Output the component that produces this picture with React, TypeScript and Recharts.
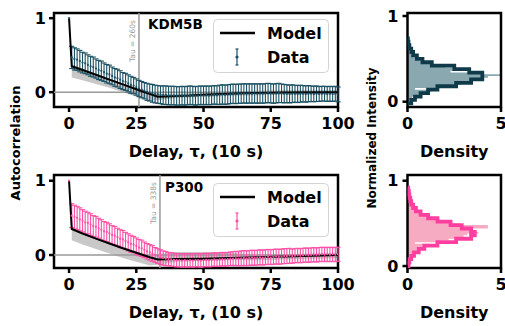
import React from 'react';
import {
  ComposedChart, Line, Area, Scatter, ErrorBar, XAxis, YAxis,
  ReferenceLine, ReferenceArea, Legend,
} from 'recharts';

const FONT = '"DejaVu Sans", sans-serif';

// ---------- data ----------
const lags = Array.from({ length: 101 }, (_, i) => i);

const kdmMean = [1.0,
  0.47, 0.45, 0.44, 0.42, 0.40, 0.39, 0.37, 0.35, 0.34, 0.32,
  0.30, 0.29, 0.27, 0.25, 0.24, 0.22, 0.20, 0.19, 0.17, 0.15,
  0.14, 0.12, 0.10, 0.09, 0.07, 0.05, 0.035, 0.02, 0.005, -0.005,
  -0.015, -0.025, -0.03, -0.035, -0.04, -0.04, -0.045, -0.045, -0.045, -0.05,
  -0.05, -0.045, -0.05, -0.045, -0.04, -0.045, -0.05, -0.045, -0.04, -0.045,
  -0.04, -0.045, -0.04, -0.035, -0.04, -0.035, -0.03, -0.035, -0.03, -0.025,
  -0.02, -0.025, -0.02, -0.02, -0.015, -0.02, -0.015, -0.02, -0.015, -0.02,
  -0.015, -0.02, -0.015, -0.01, -0.015, -0.02, -0.015, -0.01, -0.015, -0.02,
  -0.02, -0.025, -0.02, -0.02, -0.025, -0.02, -0.02, -0.025, -0.02, -0.02,
  -0.025, -0.02, -0.025, -0.02, -0.02, -0.025, -0.02, -0.025, -0.02, -0.03];

const kdmErr = [0,
  0.15, 0.15, 0.145, 0.145, 0.14, 0.14, 0.135, 0.135, 0.135, 0.13,
  0.13, 0.13, 0.125, 0.125, 0.125, 0.12, 0.12, 0.12, 0.12, 0.115,
  0.115, 0.115, 0.115, 0.11, 0.11, 0.11, 0.11, 0.11, 0.115, 0.115,
  0.12, 0.12, 0.12, 0.12, 0.125, 0.125, 0.125, 0.125, 0.125, 0.125,
  0.125, 0.125, 0.125, 0.125, 0.125, 0.125, 0.125, 0.125, 0.125, 0.125,
  0.125, 0.125, 0.125, 0.125, 0.125, 0.13, 0.13, 0.13, 0.13, 0.13,
  0.13, 0.13, 0.13, 0.13, 0.13, 0.13, 0.13, 0.13, 0.13, 0.13,
  0.13, 0.13, 0.13, 0.13, 0.13, 0.13, 0.13, 0.13, 0.125, 0.125,
  0.12, 0.12, 0.12, 0.115, 0.115, 0.115, 0.11, 0.11, 0.11, 0.105,
  0.105, 0.105, 0.1, 0.1, 0.1, 0.1, 0.1, 0.1, 0.1, 0.1];

const p300Mean = [1.0,
  0.53, 0.51, 0.50, 0.48, 0.46, 0.44, 0.43, 0.41, 0.39, 0.38,
  0.36, 0.34, 0.32, 0.31, 0.29, 0.27, 0.26, 0.24, 0.22, 0.21,
  0.19, 0.17, 0.15, 0.14, 0.12, 0.10, 0.09, 0.07, 0.05, 0.035,
  0.02, 0.0, -0.015, -0.03, -0.04, -0.05, -0.055, -0.06, -0.065, -0.07,
  -0.07, -0.075, -0.07, -0.075, -0.07, -0.075, -0.07, -0.07, -0.075, -0.07,
  -0.065, -0.07, -0.065, -0.06, -0.065, -0.06, -0.055, -0.06, -0.055, -0.05,
  -0.05, -0.045, -0.05, -0.045, -0.04, -0.045, -0.04, -0.035, -0.04, -0.035,
  -0.03, -0.035, -0.03, -0.025, -0.03, -0.025, -0.02, -0.025, -0.02, -0.015,
  -0.015, -0.01, -0.015, -0.01, -0.005, -0.01, -0.005, 0.0, -0.005, 0.0,
  0.005, 0.0, 0.005, 0.01, 0.005, 0.01, 0.005, 0.01, 0.005, 0.01];

const p300Err = [0,
  0.16, 0.16, 0.155, 0.155, 0.15, 0.15, 0.145, 0.145, 0.14, 0.14,
  0.135, 0.135, 0.13, 0.13, 0.13, 0.125, 0.125, 0.12, 0.12, 0.12,
  0.115, 0.115, 0.115, 0.11, 0.11, 0.11, 0.11, 0.105, 0.105, 0.105,
  0.105, 0.1, 0.1, 0.1, 0.095, 0.095, 0.09, 0.09, 0.09, 0.09,
  0.09, 0.09, 0.09, 0.09, 0.09, 0.09, 0.09, 0.09, 0.09, 0.09,
  0.09, 0.09, 0.09, 0.09, 0.09, 0.09, 0.09, 0.09, 0.09, 0.09,
  0.095, 0.095, 0.095, 0.1, 0.1, 0.1, 0.1, 0.1, 0.1, 0.1,
  0.1, 0.1, 0.1, 0.1, 0.1, 0.1, 0.1, 0.1, 0.1, 0.1,
  0.1, 0.1, 0.095, 0.095, 0.095, 0.095, 0.095, 0.095, 0.095, 0.095,
  0.095, 0.095, 0.095, 0.095, 0.095, 0.095, 0.095, 0.095, 0.095, 0.095];

const kdmModelLags = [0, 1, 5, 10, 15, 20, 25, 29, 33, 40, 45, 50, 64, 80, 100];
const kdmModelVals = [1.0, 0.35, 0.30, 0.235, 0.17, 0.105, 0.04, -0.01, -0.06, -0.05, -0.045, -0.035, -0.015, -0.005, 0.0];
const kdmBandLags = [1, 5, 10, 15, 20, 25, 30, 35, 40, 50, 64, 80, 100];
const kdmBandLo = [0.20, 0.16, 0.11, 0.06, 0.0, -0.06, -0.12, -0.10, -0.08, -0.065, -0.045, -0.035, -0.03];
const kdmBandHi = [0.37, 0.32, 0.25, 0.18, 0.12, 0.06, 0.0, -0.02, -0.02, -0.005, 0.015, 0.025, 0.03];

const p300ModelLags = [0, 1, 5, 10, 15, 20, 25, 30, 33, 40, 50, 60, 70, 80, 90, 100];
const p300ModelVals = [1.0, 0.35, 0.29, 0.22, 0.155, 0.09, 0.03, -0.03, -0.06, -0.055, -0.05, -0.04, -0.03, -0.02, -0.01, 0.0];
const p300BandLags = [1, 5, 10, 15, 20, 25, 30, 35, 40, 50, 60, 70, 80, 90, 100];
const p300BandLo = [0.20, 0.14, 0.08, 0.02, -0.04, -0.09, -0.14, -0.12, -0.09, -0.08, -0.07, -0.07, -0.06, -0.05, -0.04];
const p300BandHi = [0.37, 0.31, 0.24, 0.17, 0.11, 0.05, 0.0, 0.02, 0.04, 0.04, 0.03, 0.0, 0.01, 0.02, 0.03];

const kdmOutlineEdges = [-0.02, 0.02, 0.06, 0.10, 0.14, 0.18, 0.22, 0.26, 0.30, 0.34, 0.38, 0.42, 0.46, 0.50, 0.54, 0.58, 0.62, 0.66, 0.70, 0.74];
const kdmOutlineDens = [0.2, 0.4, 0.7, 1.1, 1.6, 2.6, 3.4, 4.0, 4.0, 3.3, 2.5, 1.3, 0.8, 0.5, 0.3, 0.2, 0.1, 0.05, 0.02];
const kdmFillEdges = [0.00, 0.02, 0.04, 0.06, 0.08, 0.10, 0.12, 0.14, 0.16, 0.18, 0.20, 0.22, 0.24, 0.26, 0.28, 0.30, 0.32, 0.34, 0.36, 0.38, 0.40, 0.42, 0.44, 0.46, 0.48, 0.50, 0.52, 0.54, 0.56, 0.58, 0.60];
const kdmFillDens = [0.1, 0.3, 0.25, 0.6, 0.8, 1.0, 1.3, 0.4, 2.0, 2.4, 2.9, 3.2, 3.5, 3.9, 4.3, 5.0, 3.9, 2.3, 3.0, 2.4, 2.0, 1.5, 1.0, 0.8, 0.6, 0.4, 0.3, 0.2, 0.1, 0.1];

const p300OutlineEdges = [0.00, 0.04, 0.08, 0.12, 0.16, 0.20, 0.24, 0.28, 0.32, 0.36, 0.40, 0.44, 0.48, 0.52, 0.56, 0.60, 0.64, 0.68, 0.72, 0.76, 0.80, 0.84, 0.88, 0.92];
const p300OutlineDens = [0.05, 0.1, 0.2, 0.35, 0.6, 0.9, 1.6, 2.6, 3.4, 3.6, 3.4, 2.9, 2.3, 1.6, 1.1, 0.7, 0.45, 0.3, 0.2, 0.15, 0.1, 0.07, 0.04];
const p300FillEdges = [0.10, 0.12, 0.14, 0.16, 0.18, 0.20, 0.22, 0.24, 0.26, 0.28, 0.30, 0.32, 0.34, 0.36, 0.38, 0.40, 0.42, 0.44, 0.46, 0.48, 0.50, 0.52, 0.54, 0.56, 0.58, 0.60, 0.62, 0.64, 0.66, 0.68, 0.70, 0.72, 0.74, 0.76, 0.78, 0.80];
const p300FillDens = [0.1, 0.2, 0.3, 0.4, 0.5, 0.8, 1.0, 1.2, 0.4, 1.8, 2.2, 2.6, 3.0, 3.2, 3.8, 3.5, 3.3, 4.3, 4.3, 2.8, 2.4, 2.0, 1.7, 1.3, 1.0, 0.8, 0.6, 0.5, 0.4, 0.35, 0.3, 0.2, 0.2, 0.15, 0.1];

const lagTicks = [0, 25, 50, 75, 100];
const acTicks = [0, 1];
const densTicks = [0, 5];
const intTicks = [0, 1];

const TEAL = '#1b5163';
const TEAL_DARK = '#0e3a49';
const TEAL_FILL = '#7c9ea7';
const PINK = '#ff4fa7';
const PINK_DARK = '#ff3f9f';
const PINK_FILL = '#f5a2bd';

// ---------- helpers ----------
const steps = (edges: number[], dens: number[]) => {
  const pts: { i: number; d: number }[] = [{ i: edges[0], d: 0 }];
  dens.forEach((d, k) => {
    pts.push({ i: edges[k], d });
    pts.push({ i: edges[k + 1], d });
  });
  pts.push({ i: edges[edges.length - 1], d: 0 });
  return pts;
};

const tickStyle = { fontSize: 16, fontWeight: 'bold', fill: '#000', fontFamily: FONT };
const tickLineStyle = { stroke: '#000', strokeWidth: 2.5 };

const LegendBox = ({ color }: { color: string }) => (
  <div style={{ width: 116, height: 54, position: 'relative' }}>
    <svg width={116} height={54} style={{ position: 'absolute', left: 0, top: 0, overflow: 'visible' }}>
      <rect x={0.5} y={0.5} width={115} height={53} rx={4} ry={4} fill="rgba(255,255,255,0.8)" stroke="#d4d4d4" strokeWidth={1} />
      <line x1={7} x2={42} y1={14} y2={14} stroke="#000" strokeWidth={2.5} />
      <line x1={24} x2={24} y1={30} y2={46} stroke={color} strokeWidth={1.2} />
      <line x1={22.5} x2={25.5} y1={30} y2={30} stroke={color} strokeWidth={1.2} />
      <line x1={22.5} x2={25.5} y1={46} y2={46} stroke={color} strokeWidth={1.2} />
      <circle cx={24} cy={38} r={1.6} fill={color} />
      <text x={54} y={14} dominantBaseline="central" style={{ fontFamily: FONT, fontWeight: 'bold', fontSize: 16 }} fill="#000">Model</text>
      <text x={54} y={38} dominantBaseline="central" style={{ fontFamily: FONT, fontWeight: 'bold', fontSize: 16 }} fill="#000">Data</text>
    </svg>
  </div>
);

type AutoProps = {
  top: number; height: number; plotTop: number; plotBottom: number;
  mean: number[]; err: number[];
  modelLags: number[]; modelVals: number[];
  bandLags: number[]; bandLo: number[]; bandHi: number[];
  color: string; tau: number; tauText: string; yDomain: [number, number];
  legendTop: number;
};

const AutoPanel = (p: AutoProps) => {
  const pts = lags.map((l, i) => ({ lag: l, mean: p.mean[i], err: p.err[i] }));
  const model = p.modelLags.map((l, i) => ({ lag: l, model: p.modelVals[i] }));
  const band = p.bandLags.map((l, i) => ({ lag: l, band: [p.bandLo[i], p.bandHi[i]] }));
  const xDomain: [number, number] = [-5.6, 100];
  const W = 360;
  const axisH = 50;
  return (
    <div style={{ position: 'absolute', left: 0, top: p.top }}>
      <ComposedChart width={W} height={p.height}
        margin={{ top: p.plotTop, right: W - 338, left: 24, bottom: p.height - p.plotBottom - axisH }}>
        <XAxis type="number" dataKey="lag" domain={xDomain} ticks={lagTicks} allowDataOverflow
          axisLine={false} tickSize={5} tickMargin={6} tick={tickStyle} tickLine={tickLineStyle}
          height={axisH}
          label={{ value: 'Delay, τ, (10 s)', position: 'insideBottom', offset: 0, style: { fontSize: 16, fontWeight: 'bold', fill: '#000', fontFamily: FONT } }} />
        <YAxis type="number" domain={p.yDomain} ticks={acTicks} allowDataOverflow width={30}
          axisLine={false} tickSize={5} tickMargin={3} tick={tickStyle} tickLine={tickLineStyle} />
        <Area data={band} dataKey="band" type="linear" stroke="none" fill="#9a9a9a" fillOpacity={0.55} isAnimationActive={false} />
        <ReferenceLine y={0} stroke="#999" strokeWidth={1.5} />
        <ReferenceLine x={p.tau} stroke="#999" strokeWidth={1.5}
          label={(lp: any) => {
            const vb = lp.viewBox || {};
            const x = (vb.x ?? 0) - 4;
            const y = (vb.y ?? 0) + 7;
            return (
              <text x={x} y={y} transform={`rotate(-90 ${x} ${y})`} textAnchor="end"
                style={{ fontSize: 7.5, fontFamily: FONT }} fill="#999">{p.tauText}</text>
            );
          }} />
        <Scatter data={pts} dataKey="mean" isAnimationActive={false} fill={p.color}
          shape={(sp: any) => <circle cx={sp.cx} cy={sp.cy} r={1.1} fill={p.color} />}>
          <ErrorBar dataKey="err" direction="y" width={2.6} stroke={p.color} strokeWidth={1.1} strokeOpacity={1} isAnimationActive={false} />
        </Scatter>
        <Line data={model} dataKey="model" type="linear" stroke="#000" strokeWidth={2} dot={false} isAnimationActive={false} />
        <ReferenceArea x1={xDomain[0]} x2={xDomain[1]} y1={p.yDomain[0]} y2={p.yDomain[1]}
          fill="none" stroke="#000" strokeWidth={2.5} ifOverflow="visible" />
        <Legend layout="vertical" align="center" verticalAlign="middle"
          wrapperStyle={{ left: 213, top: p.legendTop, width: 116, height: 54 }}
          content={() => <LegendBox color={p.color} />} />
      </ComposedChart>
    </div>
  );
};

type HistProps = {
  top: number; height: number; plotTop: number; plotBottom: number;
  outEdges: number[]; outDens: number[]; fillEdges: number[]; fillDens: number[];
  dark: string; fill: string; yDomain: [number, number];
};

const HistPanel = (p: HistProps) => {
  const outline = steps(p.outEdges, p.outDens);
  const filled = steps(p.fillEdges, p.fillDens);
  const W = 145;
  const axisH = 50;
  return (
    <div style={{ position: 'absolute', left: 360, top: p.top }}>
      <ComposedChart layout="vertical" width={W} height={p.height}
        margin={{ top: p.plotTop, right: W - 141, left: 17.5, bottom: p.height - p.plotBottom - axisH }}>
        <XAxis type="number" domain={[0, 5]} ticks={densTicks} allowDataOverflow
          axisLine={false} tickSize={5} tickMargin={6} tick={tickStyle} tickLine={tickLineStyle}
          height={axisH}
          label={{ value: 'Density', position: 'insideBottom', offset: 0, style: { fontSize: 16, fontWeight: 'bold', fill: '#000', fontFamily: FONT } }} />
        <YAxis type="number" dataKey="i" domain={p.yDomain} ticks={intTicks} allowDataOverflow width={30} reversed
          axisLine={false} tickSize={5} tickMargin={4} tick={tickStyle} tickLine={tickLineStyle} />
        <Area data={filled} dataKey="d" type="linear" stroke="none" fill={p.fill} fillOpacity={0.9} isAnimationActive={false} />
        <Line data={outline} dataKey="d" type="linear" stroke={p.dark} strokeWidth={3.8} dot={false} isAnimationActive={false} />
        <ReferenceArea x1={0} x2={5} y1={p.yDomain[0]} y2={p.yDomain[1]}
          fill="none" stroke="#000" strokeWidth={2.5} ifOverflow="visible" />
      </ComposedChart>
    </div>
  );
};

export default function App() {
  return (
    <div style={{ position: 'absolute', left: 0, top: 0, width: 505, height: 326, background: '#fff', overflow: 'hidden' }}>
      <AutoPanel top={0} height={165} plotTop={13} plotBottom={107}
        mean={kdmMean} err={kdmErr} modelLags={kdmModelLags} modelVals={kdmModelVals}
        bandLags={kdmBandLags} bandLo={kdmBandLo} bandHi={kdmBandHi}
        color={TEAL} tau={26} tauText="Tau = 260s" yDomain={[-0.2, 1.07]} legendTop={19} />
      <AutoPanel top={160} height={166} plotTop={15} plotBottom={108}
        mean={p300Mean} err={p300Err} modelLags={p300ModelLags} modelVals={p300ModelVals}
        bandLags={p300BandLags} bandLo={p300BandLo} bandHi={p300BandHi}
        color={PINK} tau={33.8} tauText="Tau = 338s" yDomain={[-0.175, 1.077]} legendTop={23} />
      <HistPanel top={0} height={165} plotTop={13} plotBottom={107}
        outEdges={kdmOutlineEdges} outDens={kdmOutlineDens} fillEdges={kdmFillEdges} fillDens={kdmFillDens}
        dark={TEAL_DARK} fill={TEAL_FILL} yDomain={[-0.062, 1.035]} />
      <HistPanel top={160} height={166} plotTop={15} plotBottom={108}
        outEdges={p300OutlineEdges} outDens={p300OutlineDens} fillEdges={p300FillEdges} fillDens={p300FillDens}
        dark={PINK_DARK} fill={PINK_FILL} yDomain={[-0.023, 1.067]} />
      <svg width={505} height={326} style={{ position: 'absolute', left: 0, top: 0, pointerEvents: 'none' }}>
        <text x={15} y={143} transform="rotate(-90 15 143)" textAnchor="middle" dominantBaseline="central"
          style={{ fontFamily: FONT, fontWeight: 'bold', fontSize: 13 }} fill="#000">Autocorrelation</text>
        <text x={372} y={138} transform="rotate(-90 372 138)" textAnchor="middle" dominantBaseline="central"
          style={{ fontFamily: FONT, fontWeight: 'bold', fontSize: 12 }} fill="#000">Normalized Intensity</text>
        <text x={148} y={29} style={{ fontFamily: FONT, fontWeight: 'bold', fontSize: 13.5 }} fill="#000">KDM5B</text>
        <text x={165} y={192} style={{ fontFamily: FONT, fontWeight: 'bold', fontSize: 13.5 }} fill="#000">P300</text>
      </svg>
    </div>
  );
}
